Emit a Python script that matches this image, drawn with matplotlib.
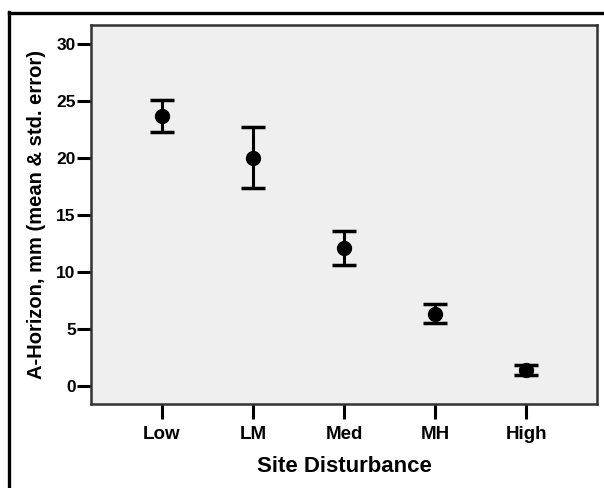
import matplotlib
matplotlib.use("Agg")
import matplotlib.pyplot as plt
from matplotlib.lines import Line2D

categories = ["Low", "LM", "Med", "MH", "High"]
means = [23.7, 20.0, 12.05, 6.27, 1.35]
upper = [25.1, 22.7, 13.6, 7.17, 1.79]
lower = [22.25, 17.37, 10.56, 5.53, 0.91]
yticks = [0, 5, 10, 15, 20, 25, 30]

plt.rcParams['font.family'] = ['Liberation Sans', 'DejaVu Sans']
plt.rcParams['font.weight'] = 'bold'

fig = plt.figure(figsize=(6.04, 4.88), dpi=100)
ax = fig.add_axes([91/604, 1-404/488, (597-91)/604, (404-25)/488])
ax.set_facecolor('#efefef')

x = list(range(len(categories)))
yerr = [[m - l for m, l in zip(means, lower)], [u - m for u, m in zip(upper, means)]]
ax.errorbar(x, means, yerr=yerr, fmt='o', color='black', ms=10, elinewidth=2.2,
            capsize=8.3, capthick=2.5, zorder=3)

ax.set_xlim(-0.78, 4.78)
ax.set_ylim(-1.6, 31.64)
ax.set_xticks(x)
ax.set_xticklabels(categories)
ax.set_yticks(yticks)

for s in ax.spines.values():
    s.set_color('#333333')
    s.set_linewidth(1.8)

ax.tick_params(axis='y', length=10, width=2.2, pad=1, labelsize=12.5, color='black')
ax.tick_params(axis='x', length=11, width=2.2, pad=5, labelsize=13.5, color='black')
for lab in ax.get_xticklabels() + ax.get_yticklabels():
    lab.set_fontweight('bold')

ax.set_xlabel("Site Disturbance", fontsize=16, fontweight='bold')
ax.set_ylabel("A-Horizon, mm (mean & std. error)", fontsize=14.5, fontweight='bold')
ax.xaxis.set_label_coords(0.5, (404-466)/379, transform=ax.transAxes)
ax.yaxis.set_label_coords((37-91)/506, 0.5, transform=ax.transAxes)
ax.xaxis.label.set_va('center')
ax.yaxis.label.set_va('center')

# outer frame
fig.add_artist(Line2D([8.5/604, 8.5/604], [0, 1-12/488], transform=fig.transFigure,
                      color='black', lw=2.4))
fig.add_artist(Line2D([8.5/604, 1], [1-13/488, 1-13/488], transform=fig.transFigure,
                      color='black', lw=2.4))

fig.savefig("out.png", dpi=100, facecolor='white')
